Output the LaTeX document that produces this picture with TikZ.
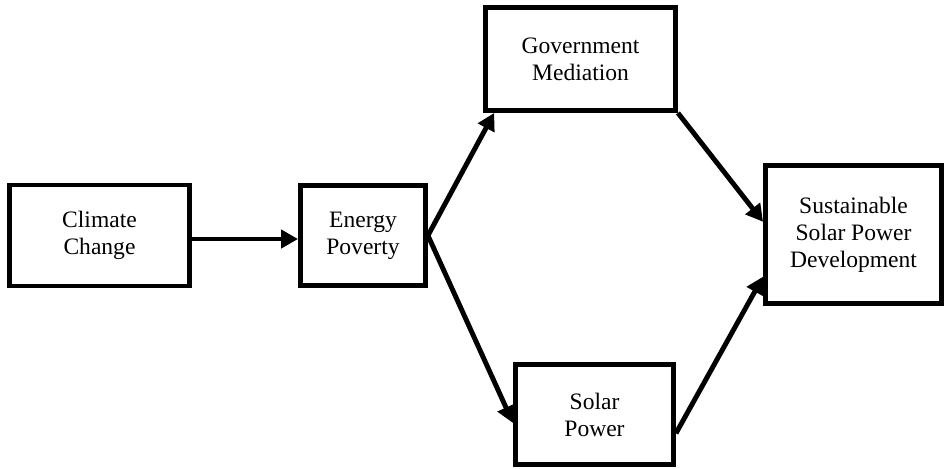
\documentclass[tikz,border=0pt]{standalone}
\usepackage{fontspec}
\setmainfont{Liberation Serif}
\usetikzlibrary{arrows.meta}
\begin{document}
\begin{tikzpicture}[
    x=0.02cm, y=-0.02cm,
    box/.style={rectangle, draw, line width=2.8pt, align=center, inner sep=0pt, font=\fontsize{13.4}{15.4}\selectfont},
    arrow/.style={line width=2.8pt, -{Triangle[length=0.34cm,width=0.36cm]}}
]
\useasboundingbox (0,0) rectangle (946,468);

\node (climate) [box, minimum width=3.6cm, minimum height=2.02cm] at (99.5,235.5) {Climate\\Change};
\node (energy) [box, minimum width=2.5cm, minimum height=2cm] at (363,235.5) {Energy\\Poverty};
\node (gov) [box, minimum width=3.8cm, minimum height=2.06cm] at (580.5,59) {Government\\Mediation};
\node (solar) [box, minimum width=3.16cm, minimum height=2cm] at (594.5,414.5) {Solar\\Power};
\node (sust) [box, minimum width=3.52cm, minimum height=2.76cm] at (853.5,234.5) {Sustainable\\Solar Power\\Development};

\draw [arrow] ([yshift=-0.07cm]climate.east) -- ([yshift=-0.07cm]energy.west);
\draw [arrow] (energy.east) -- (gov.212);
\draw [arrow] (energy.east) -- (solar.186);
\draw [arrow] (gov.south east) -- (sust.172);
\draw [arrow] (solar.-13) -- (sust.205);

\end{tikzpicture}
\end{document}
